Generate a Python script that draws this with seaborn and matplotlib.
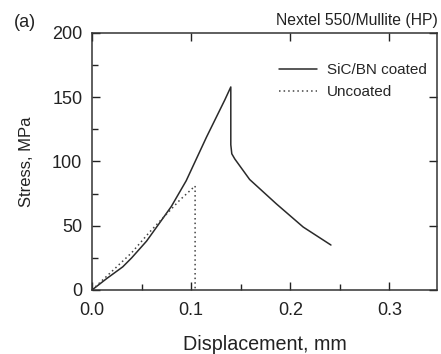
import numpy as np
import pandas as pd
import matplotlib
matplotlib.use("Agg")
import matplotlib.pyplot as plt
import seaborn as sns
from matplotlib.ticker import MultipleLocator

# Data
coated_x = [0.0, 0.015, 0.031, 0.040, 0.055, 0.068, 0.080, 0.095, 0.1155, 0.134, 0.140,
            0.140, 0.141, 0.144, 0.159, 0.186, 0.213, 0.241]
coated_y = [0, 9, 18, 25, 38, 52, 65, 85, 119, 148, 158,
            113, 106, 102, 86, 67, 49, 35]
uncoated_x = [0.0, 0.018, 0.040, 0.058, 0.080, 0.0886, 0.104, 0.104]
uncoated_y = [0, 13, 29, 45, 63, 70, 81, 0]
series_names = ["SiC/BN coated", "Uncoated"]
x_ticks = [0.0, 0.1, 0.2, 0.3]
x_tick_labels = ["0.0", "0.1", "0.2", "0.3"]

df = pd.concat([
    pd.DataFrame({"x": coated_x, "y": coated_y, "series": series_names[0]}),
    pd.DataFrame({"x": uncoated_x, "y": uncoated_y, "series": series_names[1]}),
])

sns.set_style("ticks")
plt.rcParams["font.family"] = ["Liberation Sans", "DejaVu Sans"]

fig = plt.figure(figsize=(4.41, 3.54), dpi=100)
ax = fig.add_axes([0.2086, 0.1808, 0.7824, 0.726])

sns.lineplot(data=df, x="x", y="y", hue="series", style="series", sort=False,
             estimator=None, palette=["#2a2a2a", "#444444"],
             dashes=[(None, None), (1, 2)], linewidth=1.1, ax=ax)

ax.set_xlim(0, 0.348)
ax.set_ylim(0, 200)
ax.set_xticks(x_ticks)
ax.set_xticklabels(x_tick_labels)
ax.xaxis.set_minor_locator(MultipleLocator(0.05))
ax.yaxis.set_major_locator(MultipleLocator(50))
ax.yaxis.set_minor_locator(MultipleLocator(25))
ax.tick_params(which="both", direction="in", labelsize=13, colors="#222222")
ax.tick_params(which="major", length=6, width=1, top=True, right=True)
ax.tick_params(which="minor", length=4, width=1, top=False, right=False)
ax.tick_params(axis="x", which="major", pad=8.5)
ax.tick_params(axis="y", which="major", pad=7)
for s in ax.spines.values():
    s.set_linewidth(1.1)
    s.set_color("#333333")

ax.set_xlabel("Displacement, mm", fontsize=14.2, labelpad=12, color="#222222")
ax.set_ylabel("Stress, MPa", fontsize=12, labelpad=13, color="#222222")
fig.text(0.993, 0.9435, "Nextel 550/Mullite (HP)", fontsize=11.3, ha="right",
         va="center", color="#222222")
fig.text(0.032, 0.925, "(a)", fontsize=13, color="#222222")

leg = ax.legend(frameon=False, loc="upper right", bbox_to_anchor=(0.97, 0.882),
                borderaxespad=0, borderpad=0, fontsize=11, handlelength=2.5,
                handletextpad=0.65, labelspacing=0.5)

fig.savefig("out.png", dpi=100)
